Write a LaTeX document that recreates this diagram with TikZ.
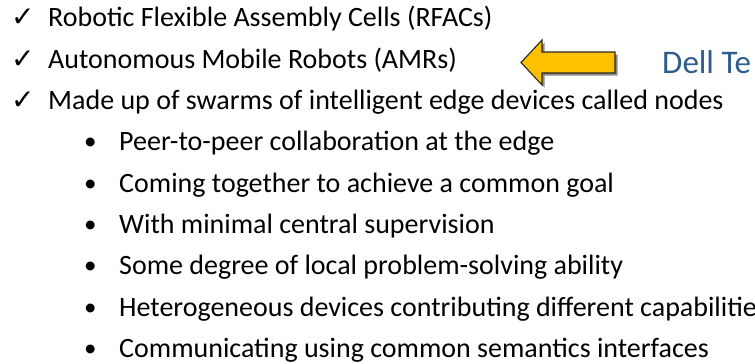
\documentclass[tikz,border=0pt]{standalone}
\usepackage{fontspec}
\setmainfont{Carlito}
\newfontfamily\symfont{DejaVu Sans}
\definecolor{dellblue}{RGB}{46,92,140}
\definecolor{arrowgold}{RGB}{255,192,0}
\begin{document}
\begin{tikzpicture}[x=1pt,y=-1pt,
  txt/.style={anchor=base west, inner sep=0pt, font=\fontsize{28}{34}\selectfont},
  chk/.style={anchor=base west, inner sep=0pt, font=\symfont\fontsize{28}{32}\selectfont},
  bul/.style={anchor=base west, inner sep=0pt, font=\fontsize{25}{30}\selectfont},
  title/.style={anchor=base west, inner sep=0pt, text=dellblue, font=\fontsize{33}{38}\selectfont},
  goldarrow/.style={fill=arrowgold, draw=black!85, line width=1.1pt, line join=miter}]
\useasboundingbox (0,0) rectangle (755,364);
\clip (0,0) rectangle (755,364);
% check items
\node[chk] (c1) at (11,27) {✓};
\node[txt] (t1) at (48,27) {Robotic Flexible Assembly Cells (RFACs)};
\node[chk] (c2) at (11,68.3) {✓};
\node[txt] (t2) at (48,68.3) {Autonomous Mobile Robots (AMRs)};
\node[chk] (c3) at (11,109.6) {✓};
\node[txt] (t3) at (48,109.6) {Made up of swarms of intelligent edge devices called nodes};
% bullets
\node[bul] (b1) at (84,149.9) {•};
\node[txt] (s1) at (119,150.9) {Peer-to-peer collaboration at the edge};
\node[bul] (b2) at (84,191.2) {•};
\node[txt] (s2) at (119,192.2) {Coming together to achieve a common goal};
\node[bul] (b3) at (84,232.5) {•};
\node[txt] (s3) at (119,233.5) {With minimal central supervision};
\node[bul] (b4) at (84,273.8) {•};
\node[txt] (s4) at (119,274.8) {Some degree of local problem-solving ability};
\node[bul] (b5) at (84,315.1) {•};
\node[txt] (s5) at (119,316.1) {Heterogeneous devices contributing different capabilitie};
\node[bul] (b6) at (84,356.4) {•};
\node[txt] (s6) at (119,357.4) {Communicating using common semantics interfaces};
% arrow with shadow
\fill[black, opacity=0.45] (523.5,65) -- (544.5,42.5) -- (544.5,54.5) -- (617.5,54.5) -- (617.5,75.5) -- (544.5,75.5) -- (544.5,87.5) -- cycle;
\filldraw[goldarrow] (521,62.5) -- (542,40) -- (542,52) -- (615,52) -- (615,73) -- (542,73) -- (542,85) -- cycle;
% title
\node[title] (dell) at (662,73) {Dell Te};
\end{tikzpicture}
\end{document}
